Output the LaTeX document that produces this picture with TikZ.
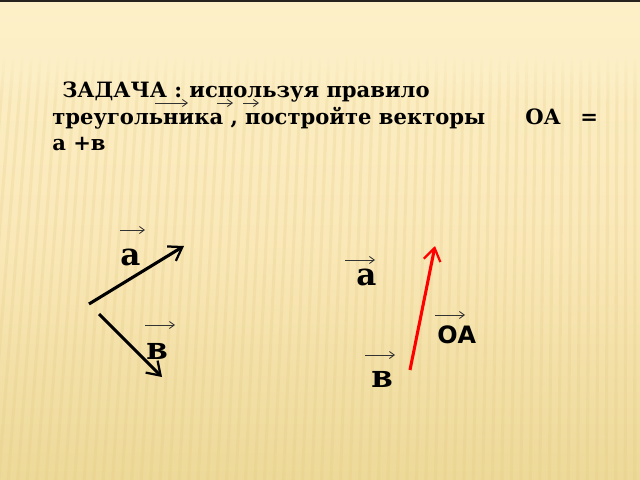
\documentclass[tikz,border=0pt]{standalone}
\usepackage{fontspec}
\setmainfont{DejaVu Serif}
\newfontfamily\sansbold{DejaVu Sans}
\usetikzlibrary{arrows.meta,fadings}
\definecolor{bgtop}{RGB}{253,240,200}
\definecolor{bgmid}{RGB}{250,232,184}
\definecolor{bgbot}{RGB}{237,217,152}
\definecolor{stripe}{RGB}{225,200,130}
\definecolor{topline}{RGB}{40,34,30}
\tikzset{
  txt/.style={anchor=base west,inner sep=0pt,font=\bfseries\fontsize{15}{18}\selectfont},
  lbl/.style={anchor=base west,inner sep=0pt,font=\bfseries\fontsize{22}{26}\selectfont},
  lblsans/.style={anchor=base west,inner sep=0pt,font=\sansbold\bfseries\fontsize{17}{20}\selectfont},
  smallarrow/.style={line width=0.6pt,-{Straight Barb[length=3.5pt,width=5pt]},black!80},
  vec/.style={line width=2.2pt,-{Straight Barb[length=9pt,width=12pt,line width=1.6pt]}},
  stripeline/.style={stripe,opacity=0.22,line width=2.2pt},
}
\begin{document}
\begin{tikzpicture}[x=0.025cm,y=-0.025cm]
\shade[top color=bgtop,bottom color=bgbot,middle color=bgmid] (0,0) rectangle (640,480);
\useasboundingbox (0,0) rectangle (640,480);
\begin{scope}
\clip (0,50) rectangle (640,480);
\foreach \i in {-40,-31,...,660}{
  \pgfmathsetmacro{\sl}{35*(1-\i/640)}
  \draw[stripeline] (\i,50) -- (\i-\sl,480);
}
\end{scope}
\fill[bgtop,path fading=south] (0,49) rectangle (640,105);
\fill[topline] (0,0) rectangle (640,2);
% title
\node[txt] (t1) at (62,97) {ЗАДАЧА : используя правило};
\node[txt] (t2) at (52,124) {треугольника , постройте векторы};
\node[txt] (t3) at (525,124) {ОА};
\node[txt] (t4) at (580,124) {=};
\node[txt] (t5) at (52,150) {а +в};
\coordinate (s1a) at (155,103); \coordinate (s1b) at (188,103);
\coordinate (s2a) at (217,103); \coordinate (s2b) at (233,103);
\coordinate (s3a) at (243,103); \coordinate (s3b) at (259,103);
\draw[smallarrow] (s1a) -- (s1b);
\draw[smallarrow] (s2a) -- (s2b);
\draw[smallarrow] (s3a) -- (s3b);
% left figure
\coordinate (o1) at (89,304); \coordinate (a1) at (184,246);
\coordinate (o2) at (99,314); \coordinate (b1) at (162,377);
\draw[vec] (o1) -- (a1);
\draw[vec] (o2) -- (b1);
\node[lbl] (la) at (120,265) {а};
\node[lbl] (lb) at (146,359) {в};
\coordinate (la1) at (120,230); \coordinate (la2) at (145,230);
\coordinate (lb1) at (145,325); \coordinate (lb2) at (175,325);
\draw[smallarrow] (la1) -- (la2);
\draw[smallarrow] (lb1) -- (lb2);
% right figure
\coordinate (r0) at (410,370); \coordinate (r1) at (435,246);
\draw[vec,red] (r0) -- (r1);
\node[lbl] (ra) at (356,285) {а};
\node[lbl] (rb) at (371,387) {в};
\node[lblsans] (roa) at (437,343) {ОА};
\coordinate (ra1) at (345,260); \coordinate (ra2) at (375,260);
\coordinate (rb1) at (365,355); \coordinate (rb2) at (395,355);
\coordinate (ro1) at (435,315); \coordinate (ro2) at (465,315);
\draw[smallarrow] (ra1) -- (ra2);
\draw[smallarrow] (rb1) -- (rb2);
\draw[smallarrow] (ro1) -- (ro2);
\end{tikzpicture}
\end{document}
